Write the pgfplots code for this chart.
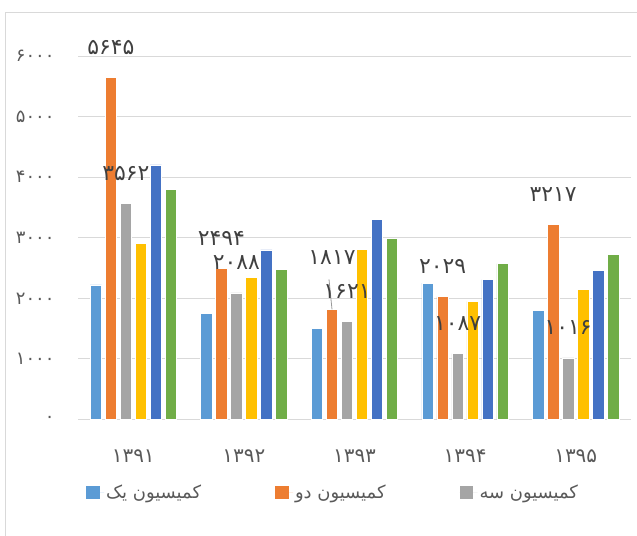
\documentclass[border=0pt]{standalone}
\usepackage{fontspec}
\usepackage{pgfplots}
\usepackage{pgfplotstable}
\pgfplotsset{compat=1.18}
\setmainfont{Liberation Sans}
\newfontfamily\arabicfont[Script=Arabic]{DejaVu Sans}
\TeXXeTstate=1
\definecolor{c1}{HTML}{5B9BD5}
\definecolor{c2}{HTML}{ED7D31}
\definecolor{c3}{HTML}{A5A5A5}
\definecolor{c4}{HTML}{FFC000}
\definecolor{c5}{HTML}{4472C4}
\definecolor{c6}{HTML}{70AD47}
\definecolor{txt}{HTML}{595959}
\definecolor{lbl}{HTML}{404040}
\definecolor{gridc}{HTML}{D9D9D9}
\pgfplotstableread{
x a b c d e f boff bl cl
0 2220 5645 3562 2910 4204 3801 30 ۵۶۴۵ ۳۵۶۲
1 1755 2494 2088 2352 2800 2480 30 ۲۴۹۴ ۲۰۸۸
2 1506 1817 1621 2806 3308 2993 52 ۱۸۱۷ ۱۶۲۱
3 2252 2029 1087 1949 2308 2574 30 ۲۰۲۹ ۱۰۸۷
4 1804 3217 1016 2153 2463 2728 30 ۳۲۱۷ ۱۰۱۶
}\data
\begin{document}
\begin{tikzpicture}[x=1bp,y=1bp]
\useasboundingbox (0,0) rectangle (637,536);
\draw[gridc, line width=1bp] (5.5,-10) -- (5.5,523) -- (650,523);
\begin{axis}[
  at={(78bp,116.5bp)}, anchor=south west,
  width=553bp, height=363.5bp, scale only axis,
  ybar=3.5bp, bar width=11.5bp,
  xmin=-0.5, xmax=4.5, ymin=0, ymax=6000,
  clip=false,
  axis line style={draw=none},
  tick style={draw=none},
  xmajorgrids=false,
  ymajorgrids, major grid style={color=gridc, line width=0.9bp},
  ytick={0,1000,2000,3000,4000,5000,6000},
  yticklabels={۰,۱۰۰۰,۲۰۰۰,۳۰۰۰,۴۰۰۰,۵۰۰۰,۶۰۰۰},
  yticklabel style={font=\arabicfont\fontsize{18}{18}\selectfont, text=txt, xshift=-20bp},
  xtick={0,1,2,3,4},
  xticklabels={۱۳۹۱,۱۳۹۲,۱۳۹۳,۱۳۹۴,۱۳۹۵},
  xticklabel style={font=\arabicfont\fontsize{20}{20}\selectfont, text=txt, yshift=-22bp},
  legend image code/.code={\fill[#1, draw=none] (0bp,-6.5bp) rectangle (13.5bp,6.5bp); \path[draw=none] (0bp,0bp) -- (18bp,0bp);},
  legend columns=3,
  legend style={at={(0.009,-0.202)}, anchor=west, draw=none, fill=none,
    font=\arabicfont\fontsize{18}{18}\selectfont, text=txt,
    /tikz/every even column/.append style={column sep=72bp}},
  every axis plot/.append style={draw=white, line width=0.6bp},
]
\addplot[fill=c1] table[x=x,y=a]{\data};
\addplot[fill=c2,
  nodes near coords, point meta=explicit symbolic,
  visualization depends on={\thisrow{boff}\as\myoff},
  every node near coord/.append style={anchor=center, yshift=\myoff*1bp, font=\arabicfont\fontsize{22}{22}\selectfont, text=lbl}
  ] table[x=x,y=b,meta=bl]{\data};
\addplot[fill=c3,
  nodes near coords, point meta=explicit symbolic,
  every node near coord/.append style={anchor=center, yshift=30bp, font=\arabicfont\fontsize{22}{22}\selectfont, text=lbl}
  ] table[x=x,y=c,meta=cl]{\data};
\addplot[fill=c4] table[x=x,y=d]{\data};
\addplot[fill=c5] table[x=x,y=e]{\data};
\addplot[fill=c6] table[x=x,y=f]{\data};
\legend{{\beginR کمیسیون یک\endR},{\beginR کمیسیون دو\endR},{\beginR کمیسیون سه\endR}}
\draw[gray!80, line width=0.8bp] ([xshift=-22.5bp]axis cs:2,1817) -- ++(-3bp,30bp);
\end{axis}
\end{tikzpicture}
\end{document}
